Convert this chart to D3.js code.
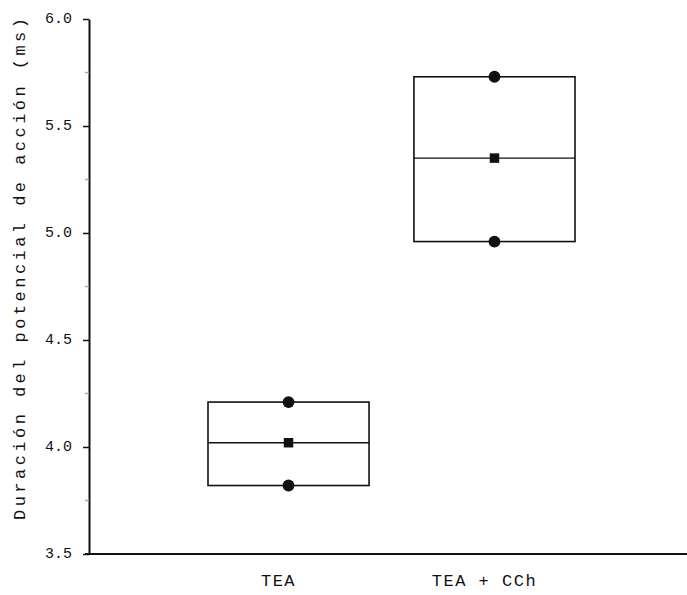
<!DOCTYPE html>
<html>
<head>
<meta charset="utf-8">
<script src="https://cdn.jsdelivr.net/npm/d3@7"></script>
<style>
  body { margin: 0; background: #fff; }
  text { font-family: "Liberation Mono", "DejaVu Sans Mono", monospace; fill: #111; }
</style>
</head>
<body>
<div id="chart"></div>
<script>
// data
const categories = ['TEA', 'TEA + CCh'];
const upper = [4.21, 5.73];   // mean + error
const centre = [4.02, 5.35];  // mean
const lower = [3.82, 4.96];   // mean - error
const yTicks = [3.5, 4.0, 4.5, 5.0, 5.5, 6.0];
const yMinor = [3.75, 4.25, 4.75, 5.25, 5.75];
const yLabel = 'Duración del potencial de acción (ms)';

const width = 687, height = 595;
const margin = {top: 19, right: 0, bottom: 41, left: 89};

const svg = d3.select('#chart').append('svg')
  .attr('width', width)
  .attr('height', height);

const y = d3.scaleLinear()
  .domain([3.5, 6.0])
  .range([height - margin.bottom, margin.top]);

const x = d3.scaleBand()
  .domain(categories)
  .range([208, 575])
  .paddingInner(0.218)
  .paddingOuter(0);

const ink = '#111';

// y axis
const yAxis = svg.append('g')
  .attr('transform', `translate(${margin.left},0)`)
  .call(d3.axisLeft(y).tickValues(yTicks).tickFormat(d3.format('.1f')).tickSize(6).tickSizeOuter(0));
yAxis.select('.domain').attr('stroke', ink).attr('stroke-width', 2);
yAxis.selectAll('.tick line').attr('stroke', ink).attr('stroke-width', 1.5);
yAxis.selectAll('.tick text')
  .attr('x', -17)
  .attr('dy', '0.2em')
  .style('font-size', '15px')
  .style('fill', ink)
  .style('font-family', '"Liberation Mono", monospace');

// faint minor marks
svg.append('g').selectAll('line')
  .data(yMinor)
  .enter().append('line')
  .attr('x1', margin.left - 4)
  .attr('x2', margin.left)
  .attr('y1', d => y(d))
  .attr('y2', d => y(d))
  .attr('stroke', '#aaa')
  .attr('stroke-width', 1.5);

// x axis line
svg.append('line')
  .attr('x1', margin.left - 4)
  .attr('x2', width)
  .attr('y1', y(3.5))
  .attr('y2', y(3.5))
  .attr('stroke', ink)
  .attr('stroke-width', 2);

// category labels
svg.append('g').selectAll('text')
  .data(categories)
  .enter().append('text')
  .attr('x', d => x(d) + x.bandwidth() / 2 - 10)
  .attr('y', y(3.5) + 32)
  .attr('text-anchor', 'middle')
  .style('font-size', '17px')
  .style('letter-spacing', '1.5px')
  .text(d => d);

// boxes
const boxes = svg.append('g').selectAll('g')
  .data(categories)
  .enter().append('g');

boxes.append('rect')
  .attr('x', d => x(d))
  .attr('y', (d, i) => y(upper[i]))
  .attr('width', x.bandwidth())
  .attr('height', (d, i) => y(lower[i]) - y(upper[i]))
  .attr('fill', 'none')
  .attr('stroke', ink)
  .attr('stroke-width', 1.6);

boxes.append('line')
  .attr('x1', d => x(d))
  .attr('x2', d => x(d) + x.bandwidth())
  .attr('y1', (d, i) => y(centre[i]))
  .attr('y2', (d, i) => y(centre[i]))
  .attr('stroke', ink)
  .attr('stroke-width', 1.4);

// markers
const cx = d => x(d) + x.bandwidth() / 2;
[upper, lower].forEach(vals => {
  boxes.append('path')
    .attr('transform', (d, i) => `translate(${cx(d)},${y(vals[i])})`)
    .attr('d', d3.symbol().type(d3.symbolCircle).size(110)())
    .attr('fill', ink);
});
boxes.append('path')
  .attr('transform', (d, i) => `translate(${cx(d)},${y(centre[i])})`)
  .attr('d', d3.symbol().type(d3.symbolSquare).size(90)())
  .attr('fill', ink);

// y label
svg.append('text')
  .attr('transform', `translate(25,${(18 + 520) / 2}) rotate(-90)`)
  .attr('text-anchor', 'middle')
  .attr('textLength', 502)
  .attr('lengthAdjust', 'spacing')
  .style('font-size', '17px')
  .text(yLabel);
</script>
</body>
</html>
